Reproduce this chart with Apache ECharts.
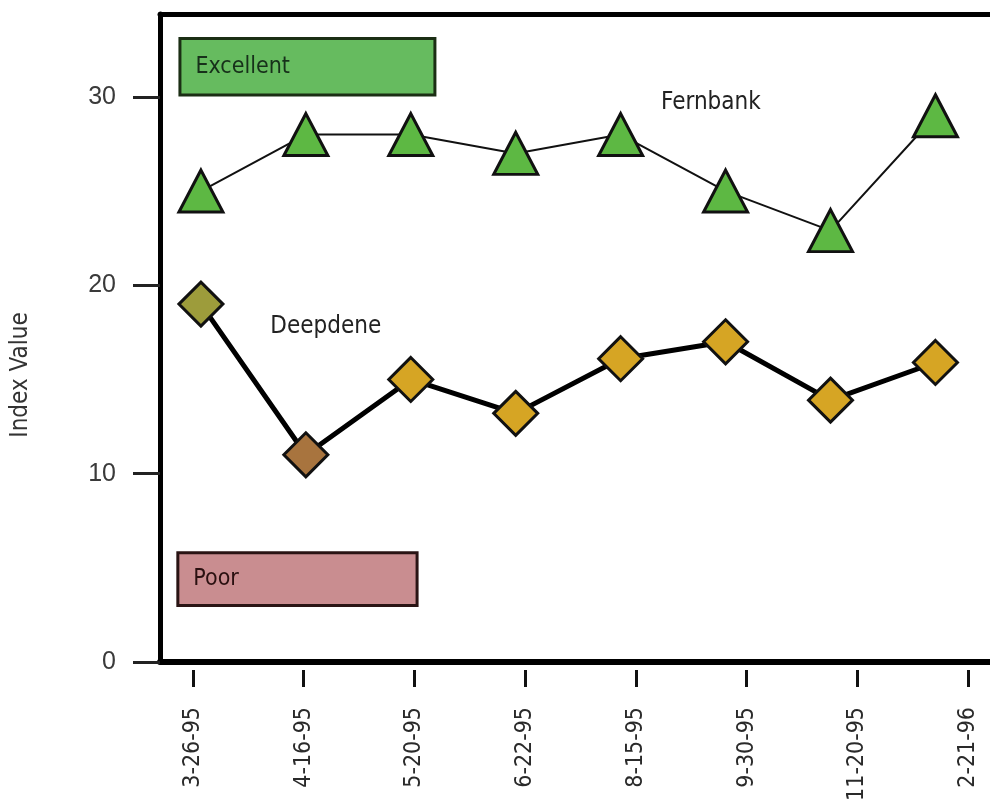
<!DOCTYPE html>
<html><head><meta charset="utf-8">
<script src="https://cdn.jsdelivr.net/npm/echarts@6/dist/echarts.min.js"></script>
<style>html,body{margin:0;padding:0;background:#fff}#c{width:990px;height:809px}</style>
</head><body><div id="c"></div>
<script>
const dates = ['3-26-95','4-16-95','5-20-95','6-22-95','8-15-95','9-30-95','11-20-95','2-21-96'];
const fernbank = [25, 28, 28, 27, 28, 25, 22.9, 29];
const deepdene = [19, 11, 15, 13.2, 16.1, 17, 13.9, 15.9];
const yTicks = [0, 10, 20, 30];
const excellentBand = [30.1, 33.1];
const poorBand = [3, 5.8];

const NARROW = '"Liberation Sans Narrow", "DejaVu Sans Condensed", "Roboto Condensed", sans-serif';
const deepdeneColors = ['#9d9c3b', '#a8743e', '#d6a524', '#d6a524', '#d6a524', '#d6a524', '#d6a524', '#d6a524'];

const chart = echarts.init(document.getElementById('c'), null, {renderer: 'canvas'});
chart.setOption({
  animation: false,
  backgroundColor: '#fff',
  grid: [
    {left: 160, right: 0, top: 14, bottom: 147, outerBoundsMode: 'none', containLabel: false},
    {left: 193, right: 22, top: 600, bottom: 139, outerBoundsMode: 'none', containLabel: false}
  ],
  xAxis: [
    {type: 'value', gridIndex: 0, min: -0.39, max: 7.52, position: 'bottom',
     axisLine: {show: true, onZero: false, lineStyle: {color: '#000', width: 6}},
     axisTick: {show: false}, axisLabel: {show: false}, splitLine: {show: false}},
    {type: 'value', gridIndex: 0, min: -0.39, max: 7.52, position: 'top',
     axisLine: {show: true, onZero: false, lineStyle: {color: '#000', width: 5}},
     axisTick: {show: false}, axisLabel: {show: false}, splitLine: {show: false}},
    {type: 'category', gridIndex: 1, data: dates, boundaryGap: false, position: 'bottom',
     axisLine: {show: false, onZero: false},
     axisTick: {show: true, length: 17, lineStyle: {color: '#111', width: 3}},
     axisLabel: {rotate: 90, margin: 37, fontFamily: NARROW, fontSize: 23, color: '#2a2a2a'},
     splitLine: {show: false}}
  ],
  yAxis: [
    {type: 'value', gridIndex: 0, min: 0, max: 34.4, interval: 10,
     axisLine: {show: true, onZero: false, lineStyle: {color: '#000', width: 5}},
     axisTick: {show: true, length: 27, customValues: yTicks, lineStyle: {color: '#222', width: 3}},
     axisLabel: {customValues: yTicks, margin: 44, fontFamily: '"Liberation Sans", Arial, sans-serif', fontSize: 25, color: '#3a3a3a'},
     splitLine: {show: false},
     name: 'Index Value', nameLocation: 'middle', nameGap: 127,
     nameTextStyle: {fontFamily: NARROW, fontSize: 24, color: '#333', padding: [0, 74, 0, 0]}},
    {type: 'value', gridIndex: 1, show: false}
  ],
  series: [
    {
      name: 'Fernbank', type: 'line', xAxisIndex: 0, yAxisIndex: 0,
      data: fernbank.map((v, i) => [i, v]),
      symbol: 'triangle', symbolSize: [44, 42],
      itemStyle: {color: '#5db843', borderColor: '#111', borderWidth: 3},
      lineStyle: {color: '#111', width: 2},
      z: 3,
      markPoint: {
        symbol: 'rect', symbolSize: 1, itemStyle: {color: 'rgba(0,0,0,0)'},
        label: {show: true, position: 'inside', formatter: '{b}', fontFamily: NARROW, fontSize: 24, color: '#222'},
        data: [{name: 'Fernbank', coord: [4.86, 29.7]}]
      },
      markArea: {
        silent: true,
        label: {show: true, position: 'insideLeft', distance: 17, fontFamily: NARROW, fontSize: 23},
        data: [
          [{name: 'Excellent', xAxis: -0.2, yAxis: excellentBand[0],
            itemStyle: {color: '#66bb5f', borderColor: '#1b2e14', borderWidth: 3},
            label: {color: '#17301a'}},
           {xAxis: 2.23, yAxis: excellentBand[1]}],
          [{name: 'Poor', xAxis: -0.22, yAxis: poorBand[0],
            itemStyle: {color: '#c98d90', borderColor: '#2a1414', borderWidth: 3},
            label: {color: '#2a1010'}},
           {xAxis: 2.06, yAxis: poorBand[1]}]
        ]
      }
    },
    {
      name: 'Deepdene', type: 'line', xAxisIndex: 0, yAxisIndex: 0,
      data: deepdene.map((v, i) => ({value: [i, v], itemStyle: {color: deepdeneColors[i]}})),
      symbol: 'diamond', symbolSize: 44,
      itemStyle: {borderColor: '#111', borderWidth: 3},
      lineStyle: {color: '#000', width: 5},
      z: 3,
      markPoint: {
        symbol: 'rect', symbolSize: 1, itemStyle: {color: 'rgba(0,0,0,0)'},
        label: {show: true, position: 'inside', formatter: '{b}', fontFamily: NARROW, fontSize: 24, color: '#222'},
        data: [{name: 'Deepdene', coord: [1.19, 17.8]}]
      }
    }
  ]
});
</script>
</body></html>
